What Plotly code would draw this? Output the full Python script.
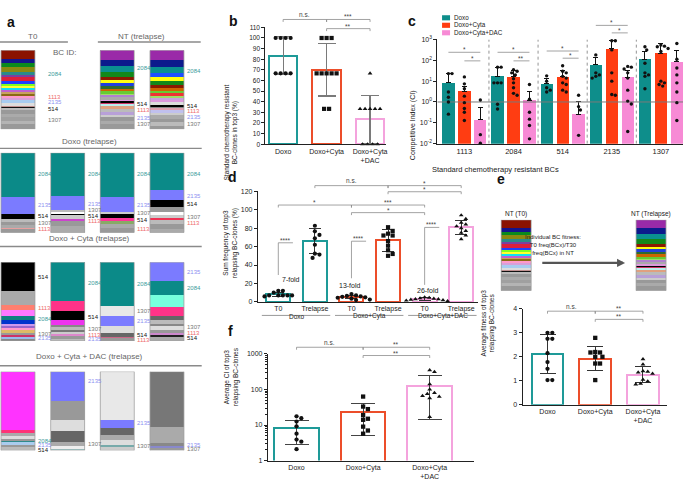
import numpy as np
import plotly.graph_objects as go

W, H = 685, 483
FONT = "Liberation Sans, Arial, Helvetica, sans-serif"


def PX(x):
    return x / W


def PY(y):
    return 1 - y / H


# ---------------- treatment colours ----------------
COL_DOXO = "#1e9a98"
COL_CYTA = "#ec4e2a"
COL_DAC = "#f4a3dd"
FILL_DOXO = "#0e8e8b"
FILL_CYTA = "#ff3d12"
FILL_DAC = "#f78ad5"
BC_LABEL_COL = {"2084": "#3a9b99", "2135": "#8d8ff0", "514": "#111111",
                "1307": "#777777", "1113": "#ee6b6b"}
TQ = "#0b8a88"   # BC 2084
SB = "#7b7bff"   # BC 2135

# ---------------- panel a : barcode composition (top -> bottom) ----------------
T0_freq = [25, 13, 12, 12, 10, 6, 12, 8, 7, 5, 7, 6, 5, 4, 8, 6, 9, 7, 4, 2, 7, 10, 10, 10, 10, 15]
T0_cols = ["#8b1200", "#14148a", "#0a8a1e", "#8a8a10", "#2a8a8a", "#7b3fa0", "#dc1f3c", "#1e40ff",
           "#80ff20", "#ffff30", "#10e0f0", "#c060d0", "#c8a060", "#8b6914", "#ff99cc", "#d8a0d8",
           "#a8ccf0", "#dddddd", "#c09090", "#111111", "#bbbbbb", "#999999", "#aaaaaa", "#a0a0a0",
           "#b4b4b4", "#999999"]
T0_lbl = [("2084", 70.4), ("1113", 40.4), ("2135", 34.8), ("514", 26.1), ("1307", 11.7)]

NT1_freq = [28, 19, 15, 15, 11, 8, 9, 7, 8, 6, 5, 6, 7, 5, 4, 3, 6, 8, 10, 8, 7, 10, 10, 15]
NT1_cols = ["#9a2aa8", "#0c1a8c", "#0a9090", "#12881a", "#8b1a00", "#ffff10", "#2040dd", "#2e6b2e",
            "#cc6600", "#66cc33", "#a0dd66", "#b080d0", "#aaaaaa", "#dd99dd", "#000000", "#cc3366",
            "#bbeeee", "#e0a080", "#bbbbbb", "#b8a0d8", "#cccccc", "#999999", "#aaaaaa", "#999999"]
NT1_lbl = [("2084", 77.4), ("514", 31.3), ("1113", 24.3), ("2135", 14.3), ("1307", 7.0)]

NT2_freq = [28, 22, 15, 12, 13, 12, 8, 8, 7, 7, 6, 7, 7, 8, 4, 4, 7, 7, 8, 10, 10, 10, 10]
NT2_cols = ["#9a2aa8", "#0c1a8c", "#0a9090", "#1e50ff", "#ffff10", "#12881a", "#8b1a00", "#cc6600",
            "#66cc33", "#ee3333", "#a0dd66", "#c8a0e0", "#dd99dd", "#dddddd", "#000000", "#888888",
            "#e0a0b0", "#c0c0ee", "#cccccc", "#aaaaaa", "#999999", "#bbbbbb", "#999999"]
NT2_lbl = [("2084", 73.9), ("514", 29.6), ("1113", 22.6), ("2135", 16.0), ("1307", 7.0)]

DX1_freq = [135, 49, 16, 10, 10, 7, 5, 10]
DX1_cols = [TQ, SB, "#000000", "#bbbbbb", "#999999", "#aaaaaa", "#e8a0a0", "#999999"]
DX1_lbl = [("2084", 73.6), ("2135", 34.7), ("514", 20.7), ("1307", 11.6), ("1113", 4.1)]
DX2_freq = [132, 40, 8, 5, 5, 10, 7, 15, 20]
DX2_cols = [TQ, SB, "#bbbbbb", "#ffffff", "#000000", "#cccccc", "#cc44cc", "#999999", "#aaaaaa"]
DX2_lbl = [("2084", 73.6), ("2135", 35.5), ("1307", 28.1), ("514", 20.7), ("1113", 14.5)]
DX3_freq = [135, 45, 7, 10, 10, 8, 12, 15]
DX3_cols = [TQ, SB, "#cccccc", "#000000", "#ff3399", "#88aa66", "#aaaaaa", "#999999"]
DX3_lbl = [("2084", 73.6), ("2135", 34.7), ("1307", 24.8), ("514", 15.7), ("1113", 5.0)]
DX4_freq = [112, 30, 23, 15, 10, 8, 7, 12, 13, 12]
DX4_cols = [TQ, SB, "#000000", "#999999", "#ffffff", "#cccccc", "#ee3355", "#bbbbbb", "#999999", "#aaaaaa"]
DX4_lbl = [("2084", 73.6), ("2135", 45.5), ("514", 36.4), ("1307", 19.8), ("1113", 12.4)]

CY1_freq = [87, 43, 17, 18, 12, 10, 7, 6, 7, 7, 8, 6, 6, 6]
CY1_cols = ["#000000", "#aaaaaa", "#ff7f6f", "#ff77ff", "#108080", "#0033cc", "#cc99ee", "#9966cc",
            "#ff99cc", "#ddbb66", "#999999", "#cc3366", "#99bbee", "#888888"]
CY1_lbl = [("514", 81.7), ("1113", 42.1), ("2084", 27.5), ("1307", 8.75), ("2135", 3.3)]
CY2_freq = [117, 33, 25, 15, 8, 8, 6, 8, 6, 8, 6]
CY2_cols = [TQ, "#ff3388", "#000000", "#ee33ee", "#888888", "#bbbbbb", "#777777", "#cccccc",
            "#dd88cc", "#999999", "#bbbbbb"]
CY2_lbl = [("2084", 74.2), ("514", 30.4), ("1307", 15.0), ("1113", 8.3), ("2135", 2.0)]
CY3_freq = [132, 33, 29, 21, 12, 5, 8]
CY3_cols = [TQ, "#e8e8e8", SB, "#dddddd", "#666666", "#cc6688", "#999999"]
CY3_lbl = [("2084", 72.9), ("1307", 37.5), ("2135", 25.4), ("514", 7.5), ("1113", 1.25)]
CY4_freq = [57, 43, 35, 30, 12, 10, 8, 12, 7, 8, 5, 13]
CY4_cols = [SB, TQ, "#77ffdd", "#ff3388", "#666666", "#bbbbbb", "#888888", "#dddddd", "#999999",
            "#cc88cc", "#222222", "#aaaaaa"]
CY4_lbl = [("2135", 87.5), ("2084", 66.7), ("1307", 17.9), ("1113", 10.4), ("514", 4.2)]

DA1_freq = [177, 11, 7, 10, 5, 5, 7, 8, 10]
DA1_cols = ["#ff33ff", "#ff3377", "#aaaaaa", "#dddddd", "#999999", "#2e8b8b", "#aaccee", "#999999", "#bbbbbb"]
DA1_lbl = [("2084", 12.0), ("2135", 7.0), ("514", 0.5), ("1307", -4.5)]
DA2_freq = [90, 57, 35, 31, 15, 7, 5]
DA2_cols = ["#7777ff", "#999999", "#dddddd", "#666666", "#aaaaaa", "#eeeeee", "#99bbbb"]
DA2_lbl = [("2135", 87.5), ("1307", 7.9), ("2084", -0.4)]
DA3_freq = [147, 25, 21, 14, 16, 8, 9]
DA3_cols = ["#e8e8e8", SB, "#666666", "#aaaaaa", "#dddddd", "#77aaaa", "#cccccc"]
DA3_lbl = [("2135", 34.2), ("1307", 5.9), ("2084", -1.25)]
DA4_freq = [170, 47, 8, 7, 8]
DA4_cols = ["#777777", "#aaaaaa", "#888888", "#8888cc", "#999999"]
DA4_lbl = [("2135", 7.1), ("1307", 1.6), ("2084", -4.6), ("1113", -10.9)]

ROW_T0NT = [(0, T0_freq, T0_cols, T0_lbl), (2, NT1_freq, NT1_cols, NT1_lbl), (3, NT2_freq, NT2_cols, NT2_lbl)]
ROW_DOXO = [(0, DX1_freq, DX1_cols, DX1_lbl), (1, DX2_freq, DX2_cols, DX2_lbl),
            (2, DX3_freq, DX3_cols, DX3_lbl), (3, DX4_freq, DX4_cols, DX4_lbl)]
ROW_CYTA = [(0, CY1_freq, CY1_cols, CY1_lbl), (1, CY2_freq, CY2_cols, CY2_lbl),
            (2, CY3_freq, CY3_cols, CY3_lbl), (3, CY4_freq, CY4_cols, CY4_lbl)]
ROW_DAC = [(0, DA1_freq, DA1_cols, DA1_lbl), (1, DA2_freq, DA2_cols, DA2_lbl),
           (2, DA3_freq, DA3_cols, DA3_lbl), (3, DA4_freq, DA4_cols, DA4_lbl)]

# ---------------- panel b ----------------
CATS3 = ["Doxo", "Doxo+Cyta", "Doxo+Cyta<br>+DAC"]
B_mean = [83.3, 70.0, 23.3]
B_sd = [17.8, 24.6, 22.5]
B_doxo = [100, 100, 100, 100, 66.7, 66.7, 66.7, 66.7]
B_cyta = [100, 100, 100, 66.7, 66.7, 66.7, 66.7, 66.7, 33.3, 33.3]
B_dac = [66.7, 33.3, 33.3, 33.3, 33.3, 33.3, 0, 0, 0, 0]

# ---------------- panel c ----------------
C_ids = ["1113", "2084", "514", "2135", "1307"]
C_doxo_mean = [8.3, 17, 7.4, 61, 112]
C_doxo_up = [23, 47, 13, 141, 262]
C_cyta_mean = [3.3, 16, 16, 350, 218]
C_cyta_up = [5.8, 32, 32, 860, 640]
C_dac_mean = [0.14, 1.2, 0.26, 15, 87]
C_dac_up = [0.54, 3.3, 1.07, 33, 290]
C_doxo_pts = [[23, 23, 3.0, 1.7, 1.0, 0.26], [47, 47, 8.3, 8.3, 8.3, 0.78, 0.46],
              [18, 10, 4.8, 3.7, 3.0], [182, 25, 20, 17, 14], [447, 316, 72, 25, 20, 17, 4.3]]
C_cyta_pts = [[16, 7.4, 4.3, 1.9, 0.93, 0.49, 0.32, 0.13], [35, 30, 25, 20, 13, 8.3, 4.8, 2.6, 2.1],
              [55, 30, 25, 17, 14, 8.3, 6.9, 3.7, 3.0], [870, 870, 316, 25, 10, 2.3, 2.1],
              [537, 479, 447, 372, 263, 10, 8.3, 6.9, 5.8]]
C_dac_pts = [[1.25, 0.027, 0.0105], [6.9, 1.35, 0.32, 0.15, 0.074, 0.017], [2.1, 0.6, 0.41, 0.025],
             [51, 47, 38, 25, 14, 3.7, 1.1, 0.8, 0.038], [646, 112, 43, 20, 8.3, 3.0, 0.93, 0.13]]
C_sig_long = ["*", "*", "*", "*"]
C_sig_short = ["*", "**", "*", "*"]

# ---------------- panel d ----------------
D_cats = ["T0", "Trelapse", "T0", "Trelapse", "T0", "Trelapse"]
D_groups = ["Doxo", "Doxo+Cyta", "Doxo+Cyta+DAC"]
D_mean = [8.5, 65.9, 5.3, 66.6, 3.2, 80.8]
D_sd = [2.2, 13.4, 1.9, 11.4, 1.3, 8.0]
D_pts = [[12, 12, 10, 7, 7, 7, 7, 7, 6],
         [82.6, 76.5, 72.6, 69, 62, 52.3, 51.3, 47.7],
         [8.5, 7, 6.5, 6, 5.5, 5, 4.5, 3.5, 2.5, 2],
         [81, 77, 74, 72, 72, 66, 61, 56, 52, 50],
         [5, 4.5, 4, 3.5, 3, 3, 2.5, 2, 1.5, 1],
         [94, 90, 86, 84, 82, 80, 77, 75, 72, 68]]
D_fold = ["7-fold", "13-fold", "26-fold"]

# ---------------- panel e ----------------
E_mean = [2.12, 1.92, 1.26]
E_sd = [0.81, 0.50, 0.35]
E_doxo = [3.0, 3.0, 2.75, 2.75, 2.15, 1.78, 1.5, 1.03, 1.03]
E_cyta = [2.79, 2.2, 2.18, 2.18, 2.0, 2.0, 1.72, 1.72, 1.03]
E_dac = [1.9, 1.68, 1.4, 1.38, 1.35, 1.3, 1.05, 0.98, 0.88, 0.85]

# ---------------- panel f ----------------
F_mean = [8.3, 22.5, 127]
F_sd = [5.4, 17.5, 113]
F_doxo = [17.5, 15.5, 12.5, 9.2, 5.7, 3.9, 3.4, 2.1]
F_cyta = [63, 33, 28, 19, 15, 14, 9, 7, 5.7]
F_dac = [350, 310, 140, 100, 80, 75, 66, 63, 57, 17]

# =====================================================================
fig = go.Figure()
shapes = []
annotations = []
layout = dict(width=W, height=H, margin=dict(l=0, r=0, t=0, b=0), autosize=False,
              paper_bgcolor="white", plot_bgcolor="white", barmode="stack", showlegend=False,
              font=dict(family=FONT, size=7, color="#222"))


def names(n):
    return ("x" if n == 1 else f"x{n}", "y" if n == 1 else f"y{n}",
            "xaxis" if n == 1 else f"xaxis{n}", "yaxis" if n == 1 else f"yaxis{n}")


def set_axes(n, xdom, ydom, xr, yr, xkw=None, ykw=None, hidden=False, ytype="linear"):
    xn, yn, xk, yk = names(n)
    base = dict(showgrid=False, zeroline=False, fixedrange=True)
    if hidden:
        layout[xk] = dict(base, domain=xdom, range=xr, anchor=yn, showline=False,
                          showticklabels=False, ticks="")
        layout[yk] = dict(base, domain=ydom, range=yr, anchor=xn, showline=False,
                          showticklabels=False, ticks="")
        return
    ax = dict(base, showline=True, linecolor="#222", linewidth=1, tickcolor="#222",
              tickwidth=1, tickfont=dict(size=7, color="#222"))
    layout[xk] = dict(ax, domain=xdom, range=xr, anchor=yn, ticks="", **(xkw or {}))
    layout[yk] = dict(ax, domain=ydom, range=yr, anchor=xn, ticks="outside", ticklen=3,
                      type=ytype, **(ykw or {}))


def bracket(xref, x0, x1, ypx, text, drop=2.5, fs=6.5):
    line = dict(color="#8c8c8c", width=0.8)
    shapes.append(dict(type="line", xref=xref, yref="paper", x0=x0, x1=x1,
                       y0=PY(ypx), y1=PY(ypx), line=line))
    for xx in (x0, x1):
        shapes.append(dict(type="line", xref=xref, yref="paper", x0=xx, x1=xx,
                           y0=PY(ypx), y1=PY(ypx + drop), line=line))
    annotations.append(dict(xref=xref, yref="paper", x=(x0 + x1) / 2, y=PY(ypx), text=text,
                            showarrow=False, yanchor="bottom", font=dict(size=fs, color="#444"),
                            yshift=-3 if "*" in text else -0.5))


def swarm(vals, ypx, xunit, d):
    placed, offs = [], [0.0] * len(vals)
    cands = [0.0]
    for k in range(1, 16):
        cands += [k * d * 0.5, -k * d * 0.5]
    for i in sorted(range(len(vals)), key=lambda j: -vals[j]):
        yp = ypx(vals[i])
        for c in cands:
            if all((c - a) ** 2 + (yp - b) ** 2 >= d * d * 0.95 for a, b in placed):
                break
        placed.append((c, yp))
        offs[i] = c / xunit
    return offs


def rows(vals, xunit, step):
    counts, seen, offs = {}, {}, []
    for v in vals:
        counts[v] = counts.get(v, 0) + 1
    for v in vals:
        k = seen.get(v, 0)
        seen[v] = k + 1
        offs.append((k - (counts[v] - 1) / 2) * step / xunit)
    return offs


def add_stack(bars, n, width, lblshift=None, labels=True):
    xn, yn, _, _ = names(n)
    M = max(len(b[1]) for b in bars)
    for k in range(M):
        xs, ys, cs = [], [], []
        for pos, freq, cols, _ in bars:
            tot = float(sum(freq))
            fr, cl = freq[::-1], cols[::-1]
            xs.append(pos)
            if k < len(fr):
                ys.append(fr[k] / tot * 100)
                cs.append(cl[k])
            else:
                ys.append(0)
                cs.append("rgba(0,0,0,0)")
        fig.add_trace(go.Bar(x=xs, y=ys, width=width, marker=dict(color=cs, line=dict(width=0)),
                             xaxis=xn, yaxis=yn, hoverinfo="skip"))
    for pos, freq, cols, lbl in bars:
        shapes.append(dict(type="rect", xref=xn, yref=yn, x0=pos - width / 2, x1=pos + width / 2,
                           y0=0, y1=100, line=dict(color="#a0a0a0", width=0.8)))
        if labels:
            sh = lblshift(pos) if lblshift else 1
            for bc, yv in lbl:
                annotations.append(dict(xref=xn, yref=yn, x=pos + width / 2, y=yv, text=bc,
                                        xanchor="left", yanchor="middle", xshift=sh, showarrow=False,
                                        font=dict(size=6, color=BC_LABEL_COL[bc])))


# ---------------- panel a ----------------
A_XR = [-0.362, 3.76]
A_W = 0.684
set_axes(1, [0, PX(205)], [PY(127), PY(47)], A_XR, [0, 100], hidden=True)
set_axes(2, [0, PX(205)], [PY(232), PY(151)], A_XR, [0, 100], hidden=True)
set_axes(3, [0, PX(205)], [PY(342), PY(262)], A_XR, [0, 100], hidden=True)
set_axes(4, [0, PX(205)], [PY(453), PY(373)], A_XR, [0, 100], hidden=True)
add_stack(ROW_T0NT, 1, A_W, lblshift=lambda p: 11 if p == 0 else 1)
add_stack(ROW_DOXO, 2, A_W)
add_stack(ROW_CYTA, 3, A_W)
add_stack(ROW_DAC, 4, A_W)


def title_line(text, cx, ty, x0, x1, ly):
    annotations.append(dict(xref="paper", yref="paper", x=PX(cx), y=PY(ty), text=text, showarrow=False,
                            font=dict(size=8, color="#666"), xanchor="center", yanchor="middle"))
    shapes.append(dict(type="line", xref="paper", yref="paper", x0=PX(x0), x1=PX(x1), y0=PY(ly), y1=PY(ly),
                       line=dict(color="#8a8a8a", width=1.4)))


title_line("T0", 33, 32.5, 0, 68, 38.5)
title_line("NT (trelapse)", 142, 32.5, 98, 201, 38.5)
title_line("Doxo (trelapse)", 90, 140, 0, 202, 146.5)
title_line("Doxo + Cyta (trelapse)", 90, 238, 0, 202, 246)
title_line("Doxo + Cyta + DAC (trelapse)", 90, 358, 0, 202, 367)
annotations.append(dict(xref="paper", yref="paper", x=PX(51), y=PY(43), text="BC ID:", showarrow=False,
                        font=dict(size=8, color="#666")))

# ---------------- panel b ----------------
set_axes(5, [PX(265.7), PX(386.7)], [PY(142.3), PY(23.7)], [-0.41, 2.37], [0, 110],
         xkw=dict(tickvals=[0, 1, 2], ticktext=CATS3),
         ykw=dict(tickvals=list(range(0, 111, 10)), tickfont=dict(size=6.5, color="#222")))
fig.add_trace(go.Bar(x=[0, 1, 2], y=B_mean, width=0.66, xaxis="x5", yaxis="y5", hoverinfo="skip",
                     marker=dict(color="rgba(255,255,255,0)", line=dict(color=[COL_DOXO, COL_CYTA, COL_DAC], width=2)),
                     error_y=dict(type="data", array=B_sd, color="#7a7a7a", thickness=1.2, width=9)))
for i, (pts, sym) in enumerate([(B_doxo, "circle"), (B_cyta, "square"), (B_dac, "triangle-up")]):
    off = rows(pts, 43.5, 5.0)
    fig.add_trace(go.Scatter(x=[i + o for o in off], y=pts, mode="markers", xaxis="x5", yaxis="y5",
                             cliponaxis=False, hoverinfo="skip",
                             marker=dict(symbol=sym, size=4.2, color="#111")))
bracket("x5", 0, 1, 15.7, "n.s.")
bracket("x5", 1, 2, 15.7, "***")
bracket("x5", 1, 2, 25, "**")
annotations.append(dict(xref="paper", yref="paper", x=PX(231), y=PY(80), textangle=-90, showarrow=False,
                        text="Standard chemotherapy resistant<br>BC-clones in top3 (%)", font=dict(size=6.5)))

# ---------------- panel c ----------------
C_OFF = [-0.325, 0.0, 0.325]
set_axes(6, [PX(438), PX(684)], [PY(141.7), PY(36)], [-0.55, 4.45], [-2, 3], ytype="log",
         xkw=dict(tickvals=list(range(5)), ticktext=C_ids, tickfont=dict(size=7.5, color="#222")),
         ykw=dict(tickvals=[0.01, 0.1, 1, 10, 100, 1000],
                  ticktext=["10<sup>-2</sup>", "10<sup>-1</sup>", "10<sup>0</sup>", "10<sup>1</sup>",
                            "10<sup>2</sup>", "10<sup>3</sup>"]))
xg = np.arange(5)
for t, (mean, up, fill) in enumerate([(C_doxo_mean, C_doxo_up, FILL_DOXO), (C_cyta_mean, C_cyta_up, FILL_CYTA),
                                      (C_dac_mean, C_dac_up, FILL_DAC)]):
    fig.add_trace(go.Bar(x=xg + C_OFF[t], y=mean, width=0.25, xaxis="x6", yaxis="y6", hoverinfo="skip",
                         marker=dict(color=fill, line=dict(width=0)),
                         error_y=dict(type="data", symmetric=False, array=[u - m for u, m in zip(up, mean)],
                                      arrayminus=[0] * 5, color="#111", thickness=1, width=2.5)))
for g in range(4):
    fig.add_trace(go.Scatter(x=[g + 0.5, g + 0.5], y=[0.01, 1000], mode="lines", xaxis="x6", yaxis="y6",
                             hoverinfo="skip", line=dict(color="#888", width=0.9, dash="dot")))
fig.add_trace(go.Scatter(x=[-0.55, 4.45], y=[1, 1], mode="lines", xaxis="x6", yaxis="y6", hoverinfo="skip",
                         line=dict(color="#7a7a7a", width=1)))
for t, ptsets in enumerate([C_doxo_pts, C_cyta_pts, C_dac_pts]):
    xs, ys = [], []
    for g, pts in enumerate(ptsets):
        off = swarm(pts, lambda v: np.log10(v) * 21.14, 49.2, 3.6)
        xs += [g + C_OFF[t] + o for o in off]
        ys += pts
    fig.add_trace(go.Scatter(x=xs, y=ys, mode="markers", xaxis="x6", yaxis="y6", cliponaxis=False,
                             hoverinfo="skip", marker=dict(size=3.4, color="#111")))
C_LONG_Y = [49, 49, 47.7, 21.7]
C_SHORT_Y = [57.7, 57.7, 55, 29.3]
for g in range(4):
    bracket("x6", g + C_OFF[0], g + C_OFF[2], C_LONG_Y[g], C_sig_long[g], drop=0)
    bracket("x6", g, g + C_OFF[2], C_SHORT_Y[g], C_sig_short[g], drop=0)
for k, (lab, fill) in enumerate([("Doxo", FILL_DOXO), ("Doxo+Cyta", FILL_CYTA), ("Doxo+Cyta+DAC", FILL_DAC)]):
    yc = 14 + 7.6 * k
    shapes.append(dict(type="rect", xref="paper", yref="paper", x0=PX(442.7), x1=PX(450.7),
                       y0=PY(yc + 2.6), y1=PY(yc - 2.6), fillcolor=fill, line=dict(width=0)))
    annotations.append(dict(xref="paper", yref="paper", x=PX(452.7), y=PY(yc), text=lab, showarrow=False,
                            xanchor="left", yanchor="middle", font=dict(size=6.3)))
annotations.append(dict(xref="paper", yref="paper", x=PX(413), y=PY(85), textangle=-90, showarrow=False,
                        text="Competitive Index (CI)", font=dict(size=7)))
annotations.append(dict(xref="paper", yref="paper", x=PX(562), y=PY(161), showarrow=False,
                        text="Standard chemotherapy resistant BCs", font=dict(size=7.5)))

# ---------------- panel d ----------------
set_axes(7, [PX(258.3), PX(478.3)], [PY(302.3), PY(190)], [-0.557, 5.448], [0, 120],
         xkw=dict(tickvals=list(range(6)), ticktext=D_cats),
         ykw=dict(tickvals=list(range(0, 121, 20))))
D_LINE = [COL_DOXO, COL_DOXO, COL_CYTA, COL_CYTA, COL_DAC, COL_DAC]
fig.add_trace(go.Bar(x=list(range(6)), y=D_mean, width=0.655, xaxis="x7", yaxis="y7", hoverinfo="skip",
                     marker=dict(color="rgba(255,255,255,0)", line=dict(color=D_LINE, width=2)),
                     error_y=dict(type="data", array=D_sd, color="#333", thickness=1, width=6)))
D_SYM = ["circle", "circle", "circle", "square", "triangle-up", "triangle-up"]
for i, pts in enumerate(D_pts):
    off = swarm(pts, lambda v: v * 0.936, 36.64, 4.6)
    fig.add_trace(go.Scatter(x=[i + o for o in off], y=pts, mode="markers", xaxis="x7", yaxis="y7",
                             cliponaxis=False, hoverinfo="skip",
                             marker=dict(symbol=D_SYM[i], size=4.2, color="#111")))
bracket("x7", 1, 3, 184.3, "n.s.")
bracket("x7", 3, 5, 184.3, "*")
bracket("x7", 3, 5, 190.5, "*")
bracket("x7", 0, 2, 204, "*")
bracket("x7", 2, 4, 204, "***")
bracket("x7", 2, 4, 211.7, "*")
FOLD_TOP = [242.3, 240.7, 226.7]
FOLD_BOT = [275, 278.3, 285]
FOLD_TXT_X = [0.34, 1.95, 4.1]
FOLD_TXT_Y = [280, 286, 290.7]
for g in range(3):
    x0 = 2 * g
    lc = dict(color="#8c8c8c", width=0.8)
    shapes.append(dict(type="line", xref="x7", yref="paper", x0=x0, x1=x0, y0=PY(FOLD_BOT[g]), y1=PY(FOLD_TOP[g]), line=lc))
    shapes.append(dict(type="line", xref="x7", yref="paper", x0=x0, x1=x0 + 0.4, y0=PY(FOLD_TOP[g]), y1=PY(FOLD_TOP[g]), line=lc))
    annotations.append(dict(xref="x7", yref="paper", x=x0 + 0.2, y=PY(FOLD_TOP[g]), text="****", showarrow=False,
                            yanchor="bottom", yshift=-3, font=dict(size=6.5, color="#444")))
    annotations.append(dict(xref="x7", yref="paper", x=FOLD_TXT_X[g], y=PY(FOLD_TXT_Y[g]), text=D_fold[g],
                            showarrow=False, font=dict(size=7)))
    shapes.append(dict(type="line", xref="x7", yref="paper", x0=2 * g - 0.45, x1=2 * g + 1.42,
                       y0=PY(316), y1=PY(316), line=dict(color="#999", width=1)))
    annotations.append(dict(xref="x7", yref="paper", x=2 * g + 0.5, y=PY(322.7), text=D_groups[g],
                            showarrow=False, font=dict(size=6.5)))
annotations.append(dict(xref="paper", yref="paper", x=PX(231), y=PY(243), textangle=-90, showarrow=False,
                        text="Sum frequency of top3<br>relapsing BC-clones (%)", font=dict(size=6.5)))

# ---------------- panel e (top diagram) ----------------
set_axes(8, [PX(495), PX(675)], [PY(291), PY(219)], [-0.163, 1.17], [0, 100], hidden=True)
add_stack([(0, T0_freq, T0_cols, []), (1, NT1_freq, NT1_cols, [])], 8, 0.222, labels=False)
annotations.append(dict(xref="x8", yref="paper", x=0, y=PY(212.7), text="NT (T0)", showarrow=False,
                        font=dict(size=6.5)))
annotations.append(dict(xref="x8", yref="paper", x=1, y=PY(212.7), text="NT (Trelapse)", showarrow=False,
                        font=dict(size=6.5)))
annotations.append(dict(xref="paper", yref="paper", x=PX(584), y=PY(245),
                        text="Individual BC fitness:<br>T0 freq(BCx)/T30<br>freq(BCx) in NT",
                        showarrow=False, font=dict(size=6)))
annotations.append(dict(xref="paper", yref="paper", x=PX(626), y=PY(262.7), ax=-84.3, ay=0,
                        axref="pixel", ayref="pixel", text="", showarrow=True, arrowhead=2, arrowsize=0.7,
                        arrowwidth=2.3, arrowcolor="#555"))

# ---------------- panel e (bottom) ----------------
set_axes(9, [PX(523.3), PX(668.3)], [PY(406.7), PY(309.3)], [-0.523, 2.51], [0, 4],
         xkw=dict(tickvals=[0, 1, 2], ticktext=CATS3),
         ykw=dict(tickvals=[0, 1, 2, 3, 4]))
fig.add_trace(go.Bar(x=[0, 1, 2], y=E_mean, width=0.67, xaxis="x9", yaxis="y9", hoverinfo="skip",
                     marker=dict(color="rgba(255,255,255,0)", line=dict(color=[COL_DOXO, COL_CYTA, COL_DAC], width=2)),
                     error_y=dict(type="data", array=E_sd, color="#333", thickness=1, width=8)))
for i, (pts, sym) in enumerate([(E_doxo, "circle"), (E_cyta, "square"), (E_dac, "triangle-up")]):
    off = swarm(pts, lambda v: v * 24.35, 47.8, 4.8)
    fig.add_trace(go.Scatter(x=[i + o for o in off], y=pts, mode="markers", xaxis="x9", yaxis="y9",
                             cliponaxis=False, hoverinfo="skip",
                             marker=dict(symbol=sym, size=4.3, color="#111")))
bracket("x9", 0, 1, 311.7, "n.s.")
bracket("x9", 1, 2, 311.7, "**")
bracket("x9", 1, 2, 320, "**")
annotations.append(dict(xref="paper", yref="paper", x=PX(499), y=PY(360), textangle=-90, showarrow=False,
                        text="Average fitness of top3<br>relapsing BC-clones", font=dict(size=6.5)))

# ---------------- panel f ----------------
F_MINOR = [m * 10 ** e for e in range(3) for m in range(2, 10)]
set_axes(10, [PX(268.3), PX(475)], [PY(463.3), PY(355)], [-0.43, 2.67], [0, 3], ytype="log",
         xkw=dict(tickvals=[0, 1, 2], ticktext=CATS3),
         ykw=dict(tickvals=[1, 10, 100, 1000], ticktext=["1", "10", "100", "1000"],
                  minor=dict(tickvals=F_MINOR, ticks="outside", ticklen=1.8, tickcolor="#222")))
fig.add_trace(go.Bar(x=[0, 1, 2], y=F_mean, width=0.67, xaxis="x10", yaxis="y10", hoverinfo="skip",
                     marker=dict(color="rgba(255,255,255,0)", line=dict(color=[COL_DOXO, COL_CYTA, COL_DAC], width=2)),
                     error_y=dict(type="data", array=F_sd, color="#444", thickness=1, width=12)))
for i, (pts, sym) in enumerate([(F_doxo, "circle"), (F_cyta, "square"), (F_dac, "triangle-up")]):
    off = swarm(pts, lambda v: np.log10(v) * 36.1, 66.8, 4.8)
    fig.add_trace(go.Scatter(x=[i + o for o in off], y=pts, mode="markers", xaxis="x10", yaxis="y10",
                             cliponaxis=False, hoverinfo="skip",
                             marker=dict(symbol=sym, size=4.3, color="#111")))
bracket("x10", 0, 1, 348.3, "n.s.")
bracket("x10", 1, 2, 348.3, "**")
bracket("x10", 1, 2, 356.7, "**")
annotations.append(dict(xref="paper", yref="paper", x=PX(231), y=PY(410), textangle=-90, showarrow=False,
                        text="Average CI of top3<br>relapsing BC-clones", font=dict(size=6.5)))

# ---------------- panel letters ----------------
for lt, x, y in [("a", 5, 8), ("b", 227, 7), ("c", 413, 7), ("d", 226, 176), ("e", 508, 178), ("f", 226, 342)]:
    annotations.append(dict(xref="paper", yref="paper", x=PX(x), y=PY(y), text=f"<b>{lt}</b>", showarrow=False,
                            font=dict(size=14, color="#111", family="Liberation Sans, Arial")))

layout["shapes"] = shapes
layout["annotations"] = annotations
fig.update_layout(**layout)
fig.write_html("out.html", config={"displayModeBar": False, "staticPlot": True},
               post_script="document.body.style.margin='0px';document.body.style.overflow='hidden';")
